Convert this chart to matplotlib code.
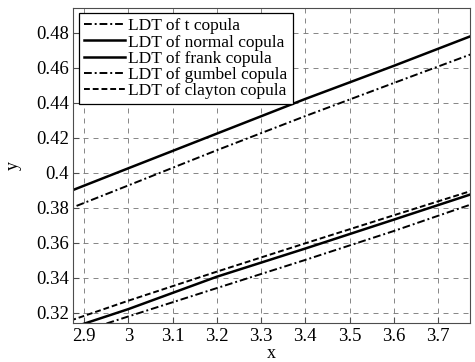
import matplotlib
matplotlib.use("Agg")
import matplotlib.pyplot as plt

plt.rcParams["font.family"] = ["Liberation Serif", "DejaVu Serif"]

# values
x = [2.85, 3.0, 3.2, 3.4, 3.6, 3.8]
y_t = [0.3779, 0.3929, 0.4130, 0.4325, 0.4514, 0.4702]
y_normal = [0.3878, 0.4027, 0.4225, 0.4423, 0.4612, 0.4807]
y_frank = [0.3097, 0.3222, 0.3407, 0.3568, 0.3733, 0.3899]
y_gumbel = [0.3058, 0.3180, 0.3342, 0.3503, 0.3668, 0.3842]
y_clayton = [0.3140, 0.3270, 0.3436, 0.3598, 0.3758, 0.3917]

labels = ["LDT of t copula", "LDT of normal copula", "LDT of frank copula",
          "LDT of gumbel copula", "LDT of clayton copula"]
xticks = [2.9, 3.0, 3.1, 3.2, 3.3, 3.4, 3.5, 3.6, 3.7]
xticklabels = ["2.9", "3", "3.1", "3.2", "3.3", "3.4", "3.5", "3.6", "3.7"]
yticks = [0.32, 0.34, 0.36, 0.38, 0.40, 0.42, 0.44, 0.46, 0.48]
yticklabels = ["0.32", "0.34", "0.36", "0.38", "0.4", "0.42", "0.44", "0.46", "0.48"]

fig = plt.figure(figsize=(4.75, 3.62), dpi=100)
ax = fig.add_axes([0.154, 0.108, 0.835, 0.870])

dashdot = (0, (4, 1.5, 1, 1.5))
ax.plot(x, y_t, color="black", linestyle=dashdot, linewidth=1.4, label=labels[0])
ax.plot(x, y_normal, color="black", linestyle="-", linewidth=1.8, label=labels[1])
ax.plot(x, y_frank, color="black", linestyle="-", linewidth=1.8, label=labels[2])
ax.plot(x, y_gumbel, color="black", linestyle=dashdot, linewidth=1.4, label=labels[3])
ax.plot(x, y_clayton, color="black", linestyle=(0, (3, 1.5)), linewidth=1.4, label=labels[4])

ax.set_xlim(2.875, 3.772)
ax.set_ylim(0.3143, 0.4943)
ax.set_xticks(xticks)
ax.set_xticklabels(xticklabels)
ax.set_yticks(yticks)
ax.set_yticklabels(yticklabels)
ax.tick_params(direction="in", labelsize=13.5, length=4, color="0.3")
ax.tick_params(axis="x", pad=4)
ax.tick_params(axis="y", pad=3)
ax.grid(True, linestyle=(0, (6, 6)), color="0.45", linewidth=0.6)
for s in ax.spines.values():
    s.set_color("0.3")
    s.set_linewidth(0.8)

ax.set_xlabel("x", fontsize=13, labelpad=0)
ax.set_ylabel("y", fontsize=13, labelpad=10)

leg = ax.legend(loc="upper left", bbox_to_anchor=(0.005, 0.995), fontsize=12.5,
                handlelength=2.4, handletextpad=0.15, labelspacing=0.0,
                borderpad=0.3, borderaxespad=0.2, fancybox=False, framealpha=1)
leg.get_frame().set_edgecolor("black")
leg.get_frame().set_linewidth(0.9)

fig.savefig("out.png", dpi=100)
